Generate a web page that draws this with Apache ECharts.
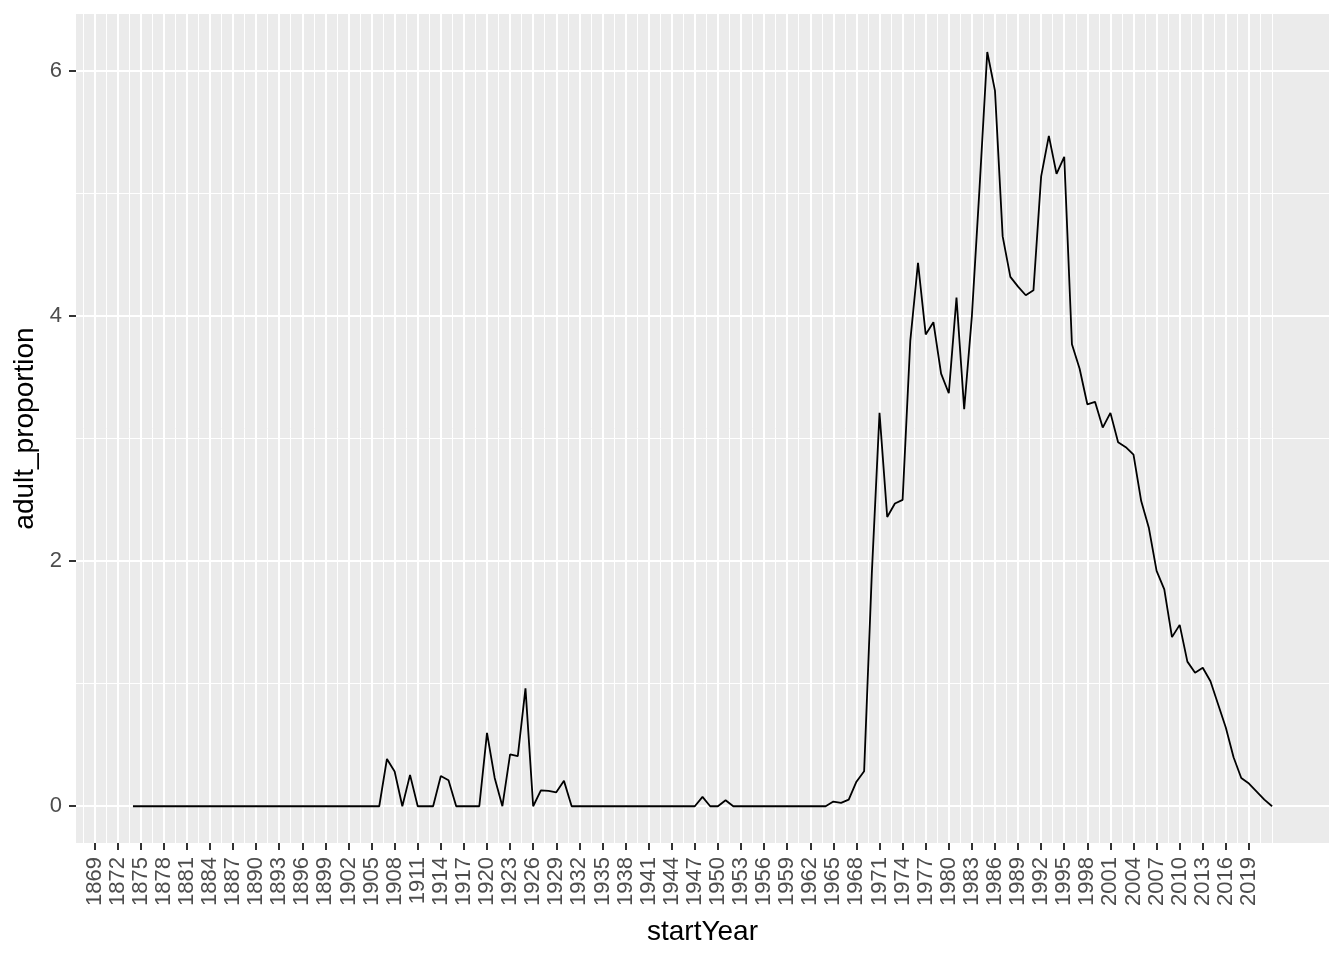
<!DOCTYPE html>
<html>
<head>
<meta charset="utf-8">
<title>adult_proportion by startYear</title>
<script src="https://cdn.jsdelivr.net/npm/echarts@6/dist/echarts.min.js"></script>
<style>
    html, body { margin: 0; padding: 0; background: #ffffff; }
    #chart { width: 1344px; height: 960px; }
</style>
</head>
<body>
<div id="chart"></div>
<script>
// Years with a value (x)
const startYears = [
    1874, 1875, 1876, 1877, 1878, 1879, 1880, 1881, 1882, 1883, 1884, 1885, 1886, 1887, 1888, 1889,
    1890, 1891, 1892, 1893, 1894, 1895, 1896, 1897, 1898, 1899, 1900, 1901, 1902, 1903, 1904, 1905,
    1906, 1907, 1908, 1909, 1910, 1911, 1912, 1913, 1914, 1915, 1916, 1917, 1918, 1919, 1920, 1921,
    1922, 1923, 1924, 1925, 1926, 1927, 1928, 1929, 1930, 1931, 1932, 1933, 1934, 1935, 1936, 1937,
    1938, 1939, 1940, 1941, 1942, 1943, 1944, 1945, 1946, 1947, 1948, 1949, 1950, 1951, 1952, 1953,
    1954, 1955, 1956, 1957, 1958, 1959, 1960, 1961, 1962, 1963, 1964, 1965, 1966, 1967, 1968, 1969,
    1970, 1971, 1972, 1973, 1974, 1975, 1976, 1977, 1978, 1979, 1980, 1981, 1982, 1983, 1984, 1985,
    1986, 1987, 1988, 1989, 1990, 1991, 1992, 1993, 1994, 1995, 1996, 1997, 1998, 1999, 2000, 2001,
    2002, 2003, 2004, 2005, 2006, 2007, 2008, 2009, 2010, 2011, 2012, 2013, 2014, 2015, 2016, 2017,
    2018, 2019, 2020, 2021, 2022
];

// adult_proportion (y)
const adultProportion = [
    0, 0, 0, 0, 0, 0, 0, 0, 0, 0, 0, 0, 0, 0, 0, 0,
    0, 0, 0, 0, 0, 0, 0, 0, 0, 0, 0, 0, 0, 0, 0, 0,
    0, 0.386, 0.283, 0, 0.256, 0, 0, 0, 0.247, 0.212, 0, 0, 0, 0, 0.598, 0.231,
    0, 0.424, 0.408, 0.962, 0, 0.13, 0.125, 0.114, 0.207, 0, 0, 0, 0, 0, 0, 0,
    0, 0, 0, 0, 0, 0, 0, 0, 0, 0, 0.076, 0, 0, 0.049, 0, 0,
    0, 0, 0, 0, 0, 0, 0, 0, 0, 0, 0, 0.038, 0.027, 0.054, 0.2, 0.286,
    1.9, 3.21, 2.36, 2.47, 2.50, 3.80, 4.435, 3.85, 3.95, 3.53, 3.37, 4.15, 3.24, 4.0, 5.05, 6.155,
    5.84, 4.65, 4.32, 4.24, 4.17, 4.21, 5.14, 5.47, 5.16, 5.30, 3.77, 3.57, 3.28, 3.30, 3.09, 3.21,
    2.97, 2.93, 2.87, 2.49, 2.27, 1.92, 1.77, 1.38, 1.48, 1.18, 1.09, 1.13, 1.02, 0.83, 0.64, 0.40,
    0.23, 0.185, 0.12, 0.054, 0
];

// Tick labels
const xBreaks = [
    1869, 1872, 1875, 1878, 1881, 1884, 1887, 1890, 1893, 1896, 1899, 1902, 1905, 1908, 1911, 1914, 1917,
    1920, 1923, 1926, 1929, 1932, 1935, 1938, 1941, 1944, 1947, 1950, 1953, 1956, 1959, 1962, 1965,
    1968, 1971, 1974, 1977, 1980, 1983, 1986, 1989, 1992, 1995, 1998, 2001, 2004, 2007, 2010, 2013,
    2016, 2019
];
const yBreaks = [0, 2, 4, 6];

// minor grid lines halfway between the breaks (plus one step past each end, like ggplot)
const step = xBreaks[1] - xBreaks[0];
const xMinor = [xBreaks[0] - step / 2];
xBreaks.forEach(b => xMinor.push(b + step / 2));
xMinor.push(xBreaks[xBreaks.length - 1] + step);
const yMinor = [1, 3, 5];

const seriesData = startYears.map((yr, i) => [yr, adultProportion[i]]);

const chart = echarts.init(document.getElementById('chart'), null, { renderer: 'canvas' });

const font = 'Liberation Sans, Arial, sans-serif';
const xMin = 1866.6, xMax = 2029.4;
const yMin = -0.3, yMax = 6.465;

chart.setOption({
    animation: false,
    backgroundColor: '#ffffff',
    grid: {
        left: 76,
        right: 15,
        top: 14,
        bottom: 117,
        show: true,
        backgroundColor: '#EBEBEB',
        borderWidth: 0
    },
    xAxis: [
        {
            type: 'value',
            position: 'bottom',
            min: xMin,
            max: xMax,
            name: 'startYear',
            nameLocation: 'middle',
            nameGap: 75,
            nameTextStyle: { color: '#000000', fontSize: 28, fontFamily: font },
            axisLine: { show: false, onZero: false },
            axisTick: {
                show: true,
                length: 7,
                customValues: xBreaks,
                lineStyle: { color: '#333333', width: 2 }
            },
            axisLabel: {
                customValues: xBreaks,
                rotate: 90,
                margin: 14,
                color: '#4D4D4D',
                fontSize: 22,
                fontFamily: font,
                formatter: v => String(v)
            },
            splitLine: { show: true, lineStyle: { color: '#ffffff', width: 2 } }
        },
        {
            // minor vertical grid lines only
            type: 'value',
            position: 'bottom',
            min: xMin,
            max: xMax,
            axisLine: { show: false, onZero: false },
            axisTick: { show: true, length: 0, customValues: xMinor, lineStyle: { color: 'rgba(0,0,0,0)' } },
            axisLabel: { show: false },
            splitLine: { show: true, lineStyle: { color: '#ffffff', width: 1 } }
        }
    ],
    yAxis: [
        {
            type: 'value',
            position: 'left',
            min: yMin,
            max: yMax,
            name: 'adult_proportion',
            nameLocation: 'middle',
            nameGap: 29,
            nameTextStyle: { color: '#000000', fontSize: 28, fontFamily: font },
            axisLine: { show: false, onZero: false },
            axisTick: {
                show: true,
                length: 7,
                customValues: yBreaks,
                lineStyle: { color: '#333333', width: 2 }
            },
            axisLabel: {
                customValues: yBreaks,
                margin: 14,
                color: '#4D4D4D',
                fontSize: 22,
                fontFamily: font
            },
            splitLine: { show: true, lineStyle: { color: '#ffffff', width: 2 } }
        },
        {
            // minor horizontal grid lines only
            type: 'value',
            position: 'left',
            min: yMin,
            max: yMax,
            axisLine: { show: false, onZero: false },
            axisTick: { show: true, length: 0, customValues: yMinor, lineStyle: { color: 'rgba(0,0,0,0)' } },
            axisLabel: { show: false },
            splitLine: { show: true, lineStyle: { color: '#ffffff', width: 1 } }
        }
    ],
    series: [{
        type: 'line',
        xAxisIndex: 0,
        yAxisIndex: 0,
        data: seriesData,
        showSymbol: false,
        symbol: 'none',
        lineStyle: { color: '#000000', width: 1.8 },
        z: 5
    }]
});
</script>
</body>
</html>
